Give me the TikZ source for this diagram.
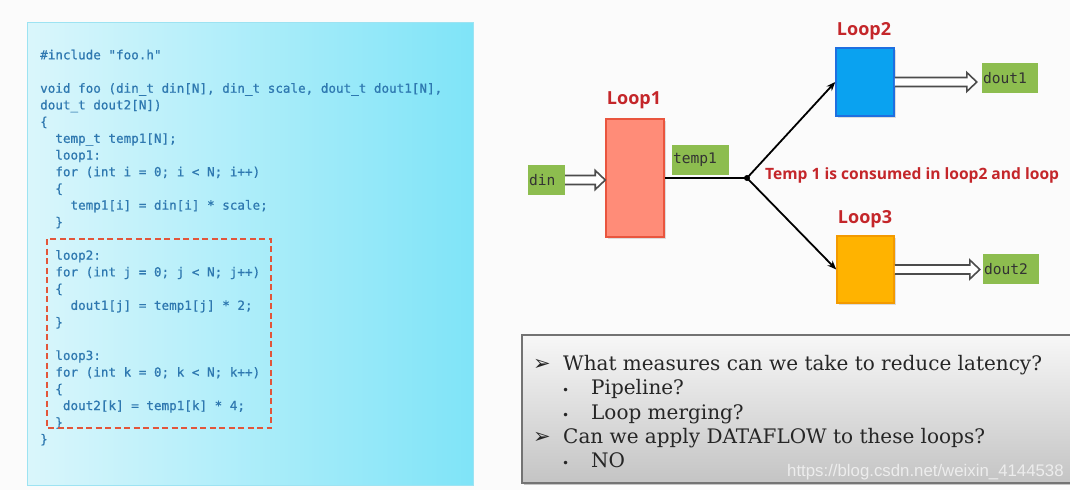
\documentclass[tikz,border=0pt]{standalone}
\usepackage{fontspec}
\setmonofont{DejaVu Sans Mono}
\newfontfamily\codefont{DejaVu Sans Mono}[FakeBold=0.8]
\newfontfamily\labelfont{Open Sans}
\newfontfamily\slidefont{DejaVu Serif}
\newfontfamily\symfont{DejaVu Sans}
\newfontfamily\markfont{Liberation Sans}
\usetikzlibrary{
    arrows.meta,
    calc,
    shadows
}

\definecolor{pageback}{HTML}{FBFBFB}
\definecolor{panelleft}{HTML}{DAF6FB}
\definecolor{panelmid}{HTML}{B4F0FA}
\definecolor{panelright}{HTML}{7FE4F8}
\definecolor{paneledge}{HTML}{9DE3F2}
\definecolor{codeblue}{HTML}{2E78B0}
\definecolor{dashred}{HTML}{E2553A}
\definecolor{titlered}{HTML}{C4262A}
\definecolor{tagfill}{HTML}{8DBD4F}
\definecolor{tagtext}{HTML}{333333}
\definecolor{loopone}{HTML}{FF8C78}
\definecolor{looponeedge}{HTML}{E9553E}
\definecolor{looptwo}{HTML}{0AA2F0}
\definecolor{looptwoedge}{HTML}{1E6FE0}
\definecolor{loopthree}{HTML}{FFB300}
\definecolor{loopthreeedge}{HTML}{F39A00}
\definecolor{slidetop}{HTML}{F7F7F7}
\definecolor{slidebottom}{HTML}{C4C4C4}

\newcommand{\pad}[1]{\hspace*{#1\fontcharwd\font`\x}}
\newcommand{\lvlone}{\makebox[30pt][l]{\symfont\fontsize{21}{21}\selectfont ➢}}
\newcommand{\lvltwo}{\hspace*{29pt}\makebox[29pt][l]{\symfont\fontsize{12}{12}\selectfont •}}
% hollow block arrow from #1 to the tip #2 (horizontal)
\newcommand{\blockarrow}[2]{%
    \draw[blockarrow] ($(#1)+(0,-4.5)$) -- ($(#1 -| #2)+(-10,-4.5)$)
        -- ($(#1 -| #2)+(-10,-9.5)$) -- (#1 -| #2) -- ($(#1 -| #2)+(-10,9.5)$)
        -- ($(#1 -| #2)+(-10,4.5)$) -- ($(#1)+(0,4.5)$);}

\begin{document}
\begin{tikzpicture}[
    x=1pt, y=-1pt,
    codepanel/.style={
        draw=paneledge,
        line width=1pt,
        left color=panelleft,
        middle color=panelmid,
        right color=panelright
    },
    codetext/.style={
        inner sep=0pt,
        align=left,
        text=codeblue,
        font=\codefont\fontsize{12.6}{16.7}\selectfont
    },
    loopframe/.style={draw=dashred, line width=2pt, dash pattern=on 6pt off 3.5pt},
    loopbox/.style={
        rectangle,
        line width=1.5pt,
        drop shadow={opacity=0.25, shadow xshift=1.5pt, shadow yshift=-1.5pt}
    },
    looplabel/.style={text=titlered, font=\labelfont\bfseries\fontsize{18}{18}\selectfont},
    datatag/.style={
        rectangle,
        fill=tagfill,
        text=tagtext,
        minimum height=30pt,
        inner xsep=1pt,
        align=left,
        font=\ttfamily\fontsize{14.6}{14.6}\selectfont
    },
    blockarrow/.style={draw=black!70, fill=white, line width=1.6pt, line join=miter},
    flowarrow/.style={-{Stealth[length=9pt, width=7pt]}, line width=1.8pt},
    slidebox/.style={
        draw=black!55,
        line width=1.2pt,
        top color=slidetop,
        bottom color=slidebottom,
        drop shadow={opacity=0.45, shadow xshift=2pt, shadow yshift=-2pt}
    },
    slidetext/.style={
        inner sep=0pt,
        align=left,
        text=black!85,
        font=\slidefont\fontsize{20}{24.3}\selectfont
    }
]

% Page
\useasboundingbox[fill=pageback] (0,0) rectangle (1070,490);

% Code panel
\path[codepanel] (27,22) rectangle (473,485);
\node[codetext, anchor=north west] (code) at (40,49.5) {%
    \#include "foo.h"\\
    \mbox{}\\
    void foo (din\_t din[N], din\_t scale, dout\_t dout1[N],\\
    dout\_t dout2[N])\\
    \{\\
    \pad{2}temp\_t temp1[N];\\
    \pad{2}loop1:\\
    \pad{2}for (int i = 0; i < N; i++)\\
    \pad{2}\{\\
    \pad{4}temp1[i] = din[i] * scale;\\
    \pad{2}\}\\
    \mbox{}\\
    \pad{2}loop2:\\
    \pad{2}for (int j = 0; j < N; j++)\\
    \pad{2}\{\\
    \pad{4}dout1[j] = temp1[j] * 2;\\
    \pad{2}\}\\
    \mbox{}\\
    \pad{2}loop3:\\
    \pad{2}for (int k = 0; k < N; k++)\\
    \pad{2}\{\\
    \pad{3}dout2[k] = temp1[k] * 4;\\
    \pad{2}\}\\
    \}};
\draw[loopframe] (47,239) rectangle (271,428);

% Loops
\node[loopbox, fill=loopone, draw=looponeedge, minimum width=58pt, minimum height=118pt] (loop1) at (635,178) {};
\node[loopbox, fill=looptwo, draw=looptwoedge, minimum width=58pt, minimum height=68pt] (loop2) at (865,82) {};
\node[loopbox, fill=loopthree, draw=loopthreeedge, minimum width=57pt, minimum height=67pt] (loop3) at (865.5,269.5) {};
\node[looplabel] (loop1label) at (634,100) {Loop1};
\node[looplabel] (loop2label) at (864,31) {Loop2};
\node[looplabel] (loop3label) at (865,219) {Loop3};

% Data tags
\node[datatag, text width=35pt] (din) at (546.5,180) {din};
\node[datatag, text width=55pt] (temp1) at (700.5,160) {temp1};
\node[datatag, text width=54pt] (dout1) at (1010,78) {dout1};
\node[datatag, text width=54pt] (dout2) at (1011,269) {dout2};

% Connections
\coordinate (fork) at (747,178);
\draw[line width=1.8pt] (loop1.east) -- (fork);
\fill (fork) circle (3pt);
\draw[flowarrow] (fork) -- (loop2.west);
\draw[flowarrow] (fork) -- (loop3.west);
\coordinate (dout1tip) at ([xshift=-5pt]dout1.west);
\coordinate (dout2tip) at ([xshift=-3pt]dout2.west);
\blockarrow{din.east}{loop1.west}
\blockarrow{loop2.east}{dout1tip}
\blockarrow{loop3.east}{dout2tip}

% Note
\node[anchor=west, inner sep=0pt, text=titlered, font=\labelfont\bfseries\fontsize{15.6}{15.6}\selectfont]
    (note) at (765,175) {Temp 1 is consumed in loop2 and loop};

% Questions
\path[slidebox] (522,335) rectangle (1071,483);
\node[slidetext, anchor=north west] (questions) at (533,355) {%
    \lvlone What measures can we take to reduce latency?\\
    \lvltwo Pipeline?\\
    \lvltwo Loop merging?\\
    \lvlone Can we apply DATAFLOW to these loops?\\
    \lvltwo NO};
\node[anchor=base west, inner sep=0pt, text=white!93!black, font=\markfont\fontsize{16.8}{16.8}\selectfont]
    (mark) at (787,476) {https://blog.csdn.net/weixin\_4144538};

\end{tikzpicture}
\end{document}
